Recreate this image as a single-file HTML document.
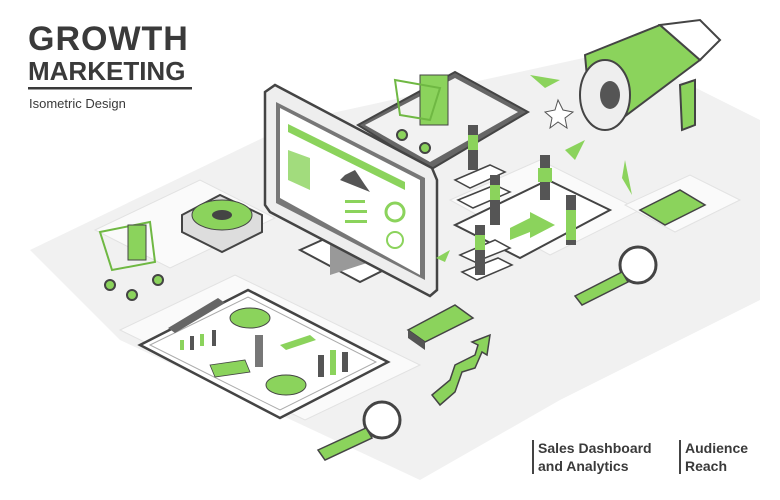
<!DOCTYPE html>
<html><head><meta charset="utf-8"><style>
html,body{margin:0;padding:0;background:#fff;width:780px;height:500px;overflow:hidden}
svg{display:block}
text{font-family:"Liberation Sans",sans-serif;fill:#3a3a3a}
</style></head><body>
<svg width="780" height="500" viewBox="0 0 780 500" xmlns="http://www.w3.org/2000/svg">
<!-- floor -->
<g fill="#f1f1f1">
<polygon points="30,250 300,120 620,50 760,120 760,300 560,400 420,480 120,340"/>
</g>
<g fill="#fafafa" stroke="#e2e2e2" stroke-width="1">
<polygon points="95,230 200,180 275,218 170,268"/>
<polygon points="120,330 235,275 420,365 305,420"/>
<polygon points="450,200 540,160 640,210 550,255"/>
<polygon points="625,205 690,175 740,200 675,232"/>
</g>
<!-- bottom-left tablet -->
<polygon points="140,345 248,290 388,362 280,418" fill="#fff" stroke="#444" stroke-width="2.5"/>
<polygon points="150,345 248,297 376,362 280,410" fill="#fff" stroke="#aaa" stroke-width="1"/>
<polygon points="168,328 218,298 225,303 175,333" fill="#666"/>
<ellipse cx="250" cy="318" rx="20" ry="10" fill="#8bd35c" stroke="#444"/>
<ellipse cx="286" cy="385" rx="20" ry="10" fill="#8bd35c" stroke="#444"/>
<rect x="255" y="335" width="8" height="32" fill="#777"/>
<rect x="318" y="355" width="6" height="22" fill="#555"/>
<rect x="330" y="350" width="6" height="25" fill="#8bd35c"/>
<rect x="342" y="352" width="6" height="20" fill="#555"/>
<polygon points="280,345 310,335 316,340 286,350" fill="#8bd35c"/>
<polygon points="210,365 245,360 250,372 215,377" fill="#8bd35c" stroke="#444" stroke-width=".8"/>
<rect x="180" y="340" width="4" height="10" fill="#8bd35c"/><rect x="190" y="336" width="4" height="14" fill="#555"/><rect x="200" y="334" width="4" height="12" fill="#8bd35c"/><rect x="212" y="330" width="4" height="16" fill="#555"/>
<!-- gear -->
<polygon points="182,215 220,195 262,215 262,232 222,252 182,232" fill="#ddd" stroke="#444" stroke-width="2"/>
<ellipse cx="222" cy="215" rx="30" ry="15" fill="#8bd35c" stroke="#444"/>
<ellipse cx="222" cy="215" rx="10" ry="5" fill="#444"/>
<!-- left cart -->
<polygon points="100,232 150,222 155,262 112,270" fill="none" stroke="#6fb843" stroke-width="2"/>
<rect x="128" y="225" width="18" height="35" fill="#8bd35c" stroke="#444"/>
<circle cx="110" cy="285" r="5" fill="#8bd35c" stroke="#444" stroke-width="2"/>
<circle cx="132" cy="295" r="5" fill="#8bd35c" stroke="#444" stroke-width="2"/>
<circle cx="158" cy="280" r="5" fill="#8bd35c" stroke="#444" stroke-width="2"/>
<!-- top tablet -->
<polygon points="358,125 455,72 528,112 430,170" fill="#666" stroke="#444" stroke-width="2"/>
<polygon points="365,125 455,78 518,112 430,162" fill="#f2f2f2"/>
<rect x="420" y="75" width="28" height="50" fill="#8bd35c" stroke="#444"/>
<polygon points="395,80 440,88 430,120 400,115" fill="none" stroke="#6fb843" stroke-width="2"/>
<circle cx="402" cy="135" r="5" fill="#8bd35c" stroke="#444" stroke-width="2"/>
<circle cx="425" cy="148" r="5" fill="#8bd35c" stroke="#444" stroke-width="2"/>
<!-- monitor stand -->
<polygon points="300,250 340,232 400,262 360,282" fill="#fff" stroke="#444" stroke-width="2"/>
<polygon points="330,240 370,225 370,262 330,275" fill="#999"/>
<!-- monitor -->
<polygon points="265,92 275,85 432,168 437,180 437,290 430,296 270,212 265,205" fill="#eee" stroke="#444" stroke-width="2.5"/>
<polygon points="276,102 425,178 425,280 276,203" fill="#777"/>
<polygon points="280,108 420,180 420,275 280,198" fill="#fff"/>
<polygon points="288,124 405,182 405,190 288,132" fill="#8bd35c"/>
<polygon points="288,150 310,158 310,190 288,180" fill="#8bd35c" opacity=".8"/>
<polygon points="340,180 370,192 365,185 355,170 345,175" fill="#555"/>
<rect x="345" y="200" width="20" height="3" fill="#8bd35c"/><rect x="345" y="210" width="22" height="3" fill="#8bd35c"/><rect x="345" y="220" width="22" height="3" fill="#8bd35c"/>
<circle cx="395" cy="212" r="9" fill="none" stroke="#8bd35c" stroke-width="3"/>
<circle cx="395" cy="240" r="8" fill="none" stroke="#8bd35c" stroke-width="2"/>
<polygon points="436,258 450,250 445,262" fill="#8bd35c"/>
<!-- stairs & platform right -->
<polygon points="455,225 548,180 610,210 520,258" fill="#fff" stroke="#444" stroke-width="2"/>
<polygon points="510,228 530,218 530,212 555,225 530,238 530,232 510,240" fill="#8bd35c"/>
<g fill="#fff" stroke="#444" stroke-width="1.5">
<polygon points="455,180 490,165 505,172 470,188"/><polygon points="458,200 495,185 510,192 473,208"/>
<polygon points="460,255 495,240 510,248 475,262"/><polygon points="462,272 498,258 512,265 477,280"/>
</g>
<!-- people -->
<g fill="#555"><rect x="468" y="125" width="10" height="45"/><rect x="490" y="175" width="10" height="50"/><rect x="475" y="225" width="10" height="50"/><rect x="540" y="155" width="10" height="45"/><rect x="566" y="195" width="10" height="50"/></g>
<g fill="#8bd35c"><rect x="468" y="135" width="10" height="15"/><rect x="490" y="185" width="10" height="15"/><rect x="475" y="235" width="10" height="15"/><rect x="538" y="168" width="14" height="14"/><rect x="566" y="210" width="10" height="30"/></g>
<!-- megaphone -->
<polygon points="585,55 660,25 700,60 620,120 590,110" fill="#8bd35c" stroke="#444" stroke-width="2"/>
<ellipse cx="605" cy="95" rx="25" ry="35" fill="#eee" stroke="#444" stroke-width="2"/>
<ellipse cx="610" cy="95" rx="10" ry="14" fill="#555"/>
<polygon points="660,25 700,20 720,40 700,60" fill="#fff" stroke="#444" stroke-width="2"/>
<polygon points="680,85 695,80 695,125 682,130" fill="#8bd35c" stroke="#444" stroke-width="2"/>
<polygon points="530,75 560,80 545,88" fill="#8bd35c"/>
<polygon points="565,150 585,140 575,160" fill="#8bd35c"/>
<polygon points="625,160 632,195 622,178" fill="#8bd35c"/>
<polygon points="558,100 563,110 573,112 565,118 567,128 558,122 550,128 552,118 545,112 555,110" fill="#fff" stroke="#555"/>
<!-- right chart -->
<polygon points="640,210 680,190 705,205 665,225" fill="#8bd35c" stroke="#444" stroke-width="1.5"/>
<!-- money -->
<polygon points="408,330 455,305 473,318 425,342" fill="#8bd35c" stroke="#444" stroke-width="1.5"/>
<polygon points="408,330 425,342 425,350 408,338" fill="#555"/>
<!-- arrow -->
<polygon points="432,395 450,380 455,365 475,355 478,345 472,342 490,335 487,355 482,352 475,368 462,372 455,392 440,405" fill="#8bd35c" stroke="#444" stroke-width="1.5"/>
<!-- magnifiers -->
<circle cx="638" cy="265" r="18" fill="#fff" stroke="#444" stroke-width="3"/>
<polygon points="575,296 622,272 628,282 582,305" fill="#8bd35c" stroke="#444" stroke-width="1.5"/>
<circle cx="382" cy="420" r="18" fill="#fff" stroke="#444" stroke-width="3"/>
<polygon points="318,450 366,428 372,438 325,460" fill="#8bd35c" stroke="#444" stroke-width="1.5"/>
<!-- title -->
<text x="28" y="50" font-size="34" font-weight="bold" letter-spacing="1">GROWTH</text>
<text x="28" y="80" font-size="26" font-weight="bold">MARKETING</text>
<rect x="28" y="87" width="164" height="2.5" fill="#3a3a3a"/>
<text x="29" y="108" font-size="13">Isometric Design</text>
<rect x="532" y="440" width="2" height="34" fill="#444"/>
<text x="538" y="453" font-size="14" font-weight="bold">Sales Dashboard</text>
<text x="538" y="471" font-size="14" font-weight="bold">and Analytics</text>
<rect x="679" y="440" width="2" height="34" fill="#444"/>
<text x="685" y="453" font-size="14" font-weight="bold">Audience</text>
<text x="685" y="471" font-size="14" font-weight="bold">Reach</text>
</svg>
</body></html>
